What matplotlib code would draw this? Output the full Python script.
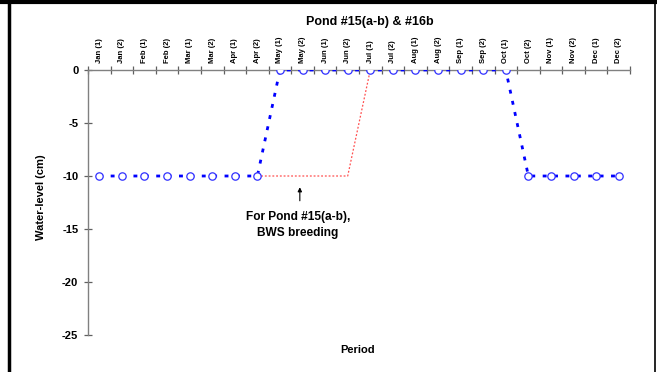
import numpy as np
import matplotlib.pyplot as plt
from matplotlib.lines import Line2D

plt.rcParams['font.family'] = ['Liberation Sans', 'DejaVu Sans']

periods = ['Jan (1)', 'Jan (2)', 'Feb (1)', 'Feb (2)', 'Mar (1)', 'Mar (2)',
           'Apr (1)', 'Apr (2)', 'May (1)', 'May (2)', 'Jun (1)', 'Jun (2)',
           'Jul (1)', 'Jul (2)', 'Aug (1)', 'Aug (2)', 'Sep (1)', 'Sep (2)',
           'Oct (1)', 'Oct (2)', 'Nov (1)', 'Nov (2)', 'Dec (1)', 'Dec (2)']
# pond 15(a-b) & 16b water level
level_main = [-10, -10, -10, -10, -10, -10, -10, -10,
              0, 0, 0, 0, 0, 0, 0, 0, 0, 0, 0,
              -10, -10, -10, -10, -10]
# pond 15(a-b) held low for BWS breeding
level_bws = [np.nan] * 7 + [-10, -10, -10, -10, -10, 0] + [np.nan] * 11

x = np.arange(len(periods)) + 0.5

fig = plt.figure(figsize=(6.57, 3.72), dpi=100)
ax = fig.add_axes([88 / 657, 1 - 335 / 372, 542 / 657, 265 / 372])

ax.plot(x, level_bws, color='#ff5050', lw=0.9, ls=(0, (1.5, 1.5)), zorder=2)
ax.plot(x, level_main, color='#0000ff', lw=2.0, ls=(0, (1.4, 2.7)),
        marker='o', ms=5.3, mfc='white', mec='#3030ff', mew=0.9, zorder=3)

ax.set_xlim(0, 24)
ax.set_ylim(-25, 0)

# axes: x line at the top (0 level), y line on the left
for s in ['right', 'bottom']:
    ax.spines[s].set_visible(False)
for s in ['left', 'top']:
    ax.spines[s].set_color('#808080')
    ax.spines[s].set_linewidth(1.0)

ax.xaxis.tick_top()
ax.set_xticks(np.arange(0, 25), minor=False)
ax.set_xticklabels([])
ax.set_xticks(x, minor=True)
ax.set_xticklabels(periods, minor=True, rotation=90, fontsize=5.5,
                   fontweight='bold')
ax.tick_params(axis='x', which='major', direction='inout', length=6,
               color='#606060', width=0.9)
ax.tick_params(axis='x', which='minor', length=0, pad=5)

ax.set_yticks([0, -5, -10, -15, -20, -25])
ax.set_yticklabels(['0', '-5', '-10', '-15', '-20', '-25'], fontsize=8,
                   fontweight='bold')
ax.tick_params(axis='y', direction='inout', length=6, color='#606060',
               width=0.9, pad=4)

ax.set_ylabel('Water-level (cm)', fontsize=8, fontweight='bold')
ax.yaxis.set_label_coords(-0.078, 0.52)
fig.text(370 / 657, 1 - 22 / 372, 'Pond #15(a-b) & #16b', fontsize=9,
         fontweight='bold', ha='center', va='center')
fig.text(358 / 657, 1 - 350 / 372, 'Period', fontsize=8, fontweight='bold',
         ha='center', va='center')

ax.annotate('', xy=(9.38, -10.8), xytext=(9.38, -12.6),
            arrowprops=dict(arrowstyle='-|>', color='black', lw=0.8,
                            mutation_scale=6))
ax.text(9.3, -14.65, 'For Pond #15(a-b),\nBWS breeding', fontsize=8.6,
        fontweight='bold', ha='center', va='center', linespacing=1.45)

# outer frame
fig.add_artist(Line2D([0, 1], [1 - 1.5 / 372] * 2, color='black', lw=3,
                      transform=fig.transFigure))
fig.add_artist(Line2D([9 / 657] * 2, [0, 1], color='black', lw=2.5,
                      transform=fig.transFigure))
fig.add_artist(Line2D([655 / 657] * 2, [0, 1], color='black', lw=1.2,
                      transform=fig.transFigure))

fig.savefig('out.png', dpi=100)
